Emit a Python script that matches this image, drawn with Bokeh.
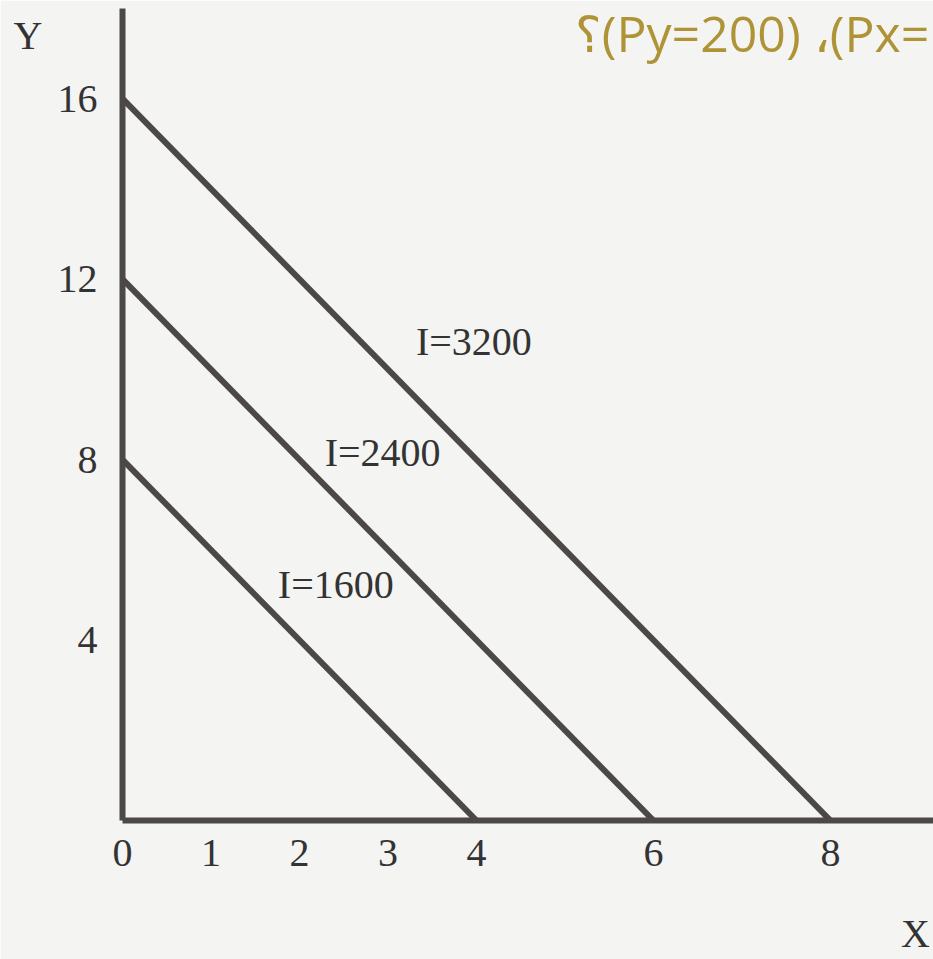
from bokeh.plotting import figure
from bokeh.models import FixedTicker, Range1d, ColumnDataSource
from bokeh.core.properties import value
from bokeh.embed import file_html
from bokeh.resources import INLINE

# ---- data ----
incomes = [1600, 2400, 3200]
y_intercepts = [8, 12, 16]      # Y units when X = 0
x_intercepts = [4, 6, 8]        # X units when Y = 0
line_labels = ["I=1600", "I=2400", "I=3200"]
x_ticks = [0, 1, 2, 3, 4, 6, 8]
y_ticks = [4, 8, 12, 16]
title_text = "؟(Py=200) ،(Px="

# label anchor positions (data units)
label_x = [2.41, 2.94, 3.97]
label_y = [5.23, 8.16, 10.62]
title_pos = (5.11, 17.45)

INK = "#4b4846"
PAPER = "#f4f4f2"
SERIF = "Liberation Serif"
TXT = "#333333"

p = figure(width=933, height=959, output_backend="svg", toolbar_location=None,
           x_range=Range1d(0, 9.164), y_range=Range1d(0, 18.0),
           min_border_left=122, min_border_right=0, min_border_top=8,
           min_border_bottom=139)
p.background_fill_color = PAPER
p.border_fill_color = PAPER
p.outline_line_color = None
p.grid.visible = False

for ax, ticks in ((p.xaxis[0], x_ticks), (p.yaxis[0], y_ticks)):
    ax.ticker = FixedTicker(ticks=ticks)
    ax.axis_line_color = INK
    ax.axis_line_width = 6
    ax.major_tick_line_color = None
    ax.minor_tick_line_color = None
    ax.major_tick_out = 0
    ax.major_tick_in = 0
    ax.major_label_text_font = SERIF
    ax.major_label_text_font_size = "40px"
    ax.major_label_text_color = TXT
    ax.axis_label_text_font = SERIF
    ax.axis_label_text_font_size = "40px"
    ax.axis_label_text_font_style = "normal"
    ax.axis_label_text_color = TXT
p.xaxis.major_label_standoff = 19
p.yaxis.major_label_standoff = 25

# axis titles sit at the far ends of the axes; padding keeps them inside the page
p.xaxis.axis_label = "X\u2002\u2009\u2009"
p.xaxis.axis_label_align = "end"
p.xaxis.axis_label_standoff = 42
p.yaxis.axis_label = "\nY"
p.yaxis.axis_label_orientation = "horizontal"
p.yaxis.axis_label_align = "end"
p.yaxis.axis_label_standoff = 12

# budget lines
for yi, xi in zip(y_intercepts, x_intercepts):
    p.line([0, xi], [yi, 0], line_color=INK, line_width=6)

src = ColumnDataSource(dict(x=label_x, y=label_y, t=line_labels))
p.text(x="x", y="y", text="t", source=src, text_font=value(SERIF),
       text_font_size="40px", text_color=TXT,
       text_align="center", text_baseline="middle")

p.text(x=[title_pos[0]], y=[title_pos[1]], text=[title_text],
       text_font=value("Open Sans"), text_font_size="50px",
       text_color="#ae9437", text_align="left", text_baseline="middle")

open("out.html", "w").write(file_html(p, INLINE))
